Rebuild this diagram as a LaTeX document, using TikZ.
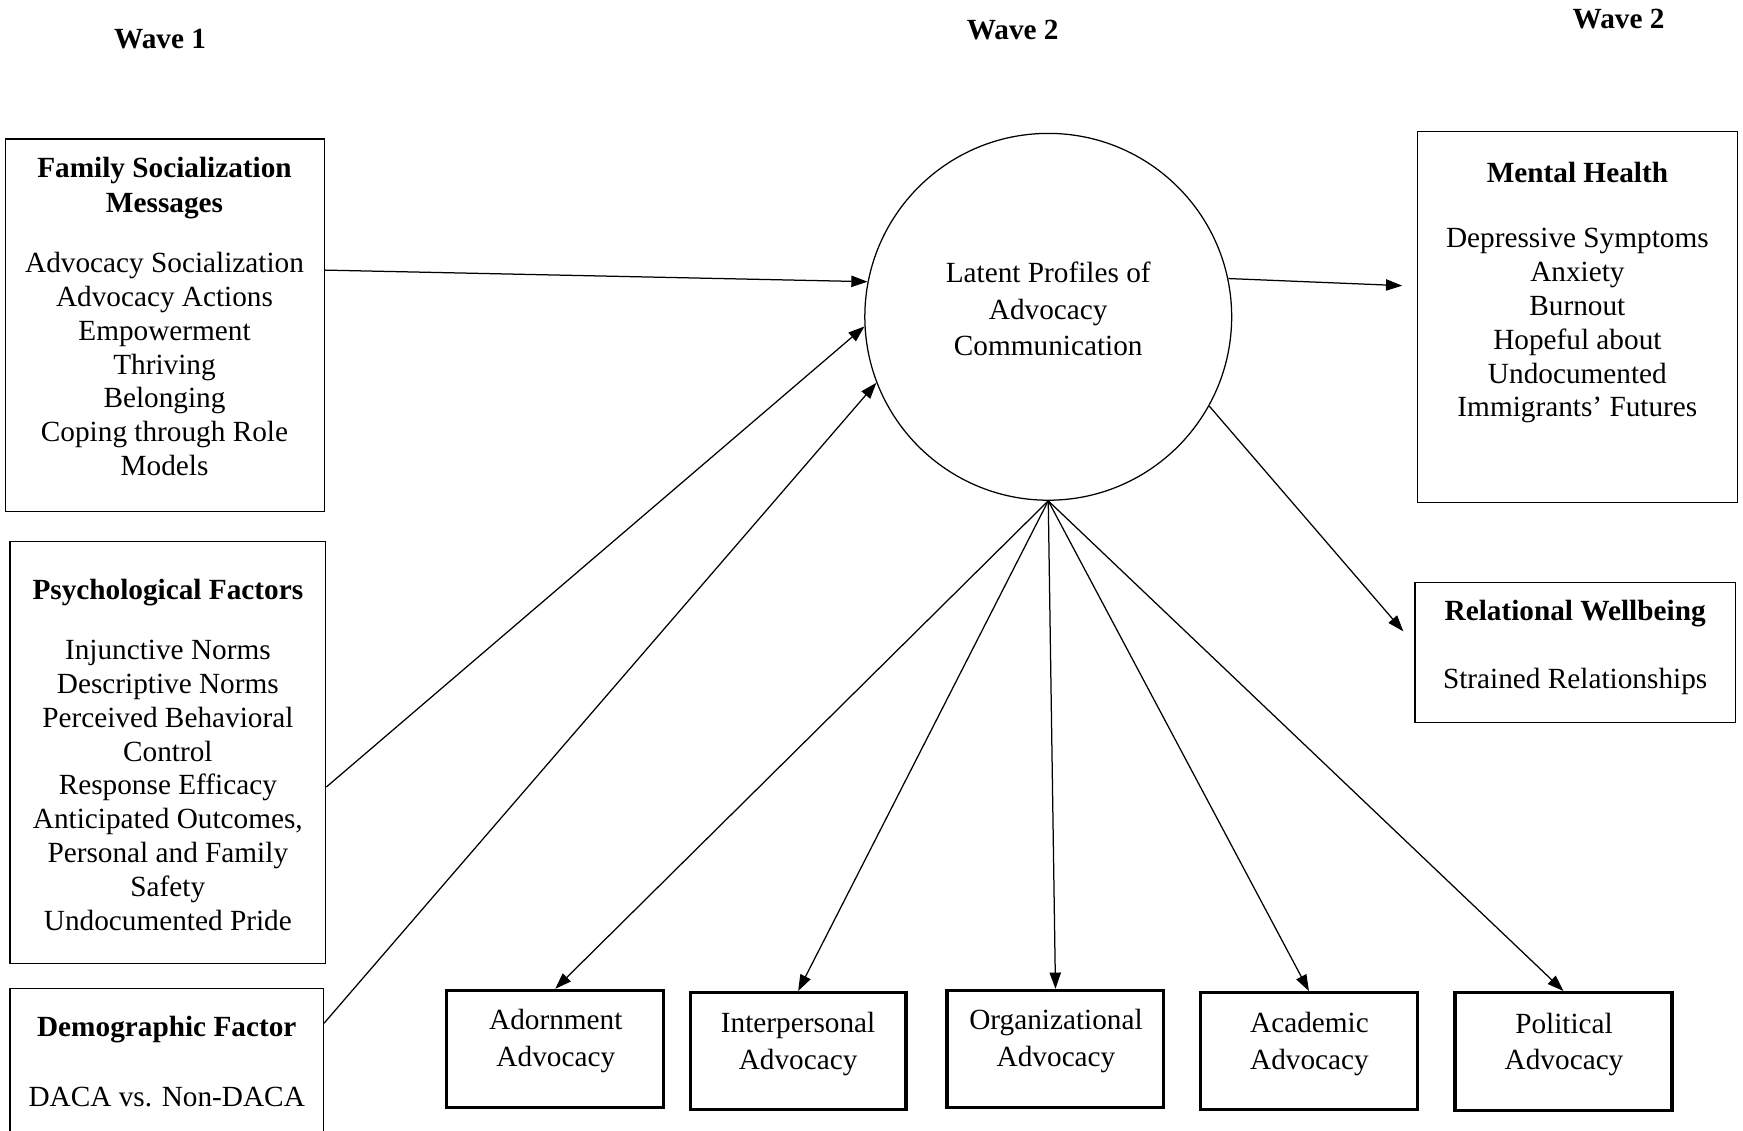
\documentclass[tikz,border=0pt]{standalone}
\usepackage{fontspec}
\setmainfont{Liberation Serif}
\usetikzlibrary{arrows.meta,calc}
\tikzset{
  box/.style={draw, line width=0.5pt, inner sep=0pt},
  obox/.style={draw, line width=1.3pt, inner sep=0pt},
  wh/.style 2 args={minimum width=#1*0.4444pt, minimum height=#2*0.4444pt},
  ttl/.style={font=\fontsize{11.7}{14.2}\selectfont\bfseries, align=center, inner sep=0pt},
  bod/.style={font=\fontsize{11.7}{13.55}\selectfont, align=center, inner sep=0pt},
  bodb/.style={font=\fontsize{11.7}{14.67}\selectfont, align=center, inner sep=0pt},
  arr/.style={-{Triangle[length=6.5pt,width=4.5pt]}, line width=0.5pt}}
\begin{document}
\begin{tikzpicture}[x=0.4444pt,y=-0.4444pt]
\clip (0,0) rectangle (1568,1017);
% wave labels
\node[ttl] (w1) at (144,35) {Wave 1};
\node[ttl] (w2) at (911,27) {Wave 2};
\node[ttl] (w3) at (1456,17) {Wave 2};
% boxes
\node[box, wh={287}{335}] (fam) at (148.5,292.5) {};
\node[box, wh={284}{380}] (psy) at (151,677) {};
\node[box, wh={282}{151}] (demo) at (150,964.5) {};
\node[box, wh={288}{334}] (mh) at (1419,285) {};
\node[box, wh={288}{126}] (rel) at (1417,587) {};
\node[draw, circle, minimum size=330*0.4444pt, inner sep=0pt, line width=0.5pt] (lp) at (943,285) {};
\node[obox, wh={195}{105}] (adorn) at (499.5,943.5) {};
\node[obox, wh={194}{105}] (inter) at (718,945.5) {};
\node[obox, wh={195}{105}] (org) at (949.5,943.5) {};
\node[obox, wh={195}{105}] (acad) at (1177.5,945.5) {};
\node[obox, wh={195}{106}] (pol) at (1406.5,946) {};
% texts
\node[ttl] (famT) at (148,169) {Family Socialization\\Messages};
\node[bod] (famB) at (148,327.5) {Advocacy Socialization\\Advocacy Actions\\Empowerment\\Thriving\\Belonging\\Coping through Role\\Models};
\node[ttl] (psyT) at (151,533) {Psychological Factors};
\node[bod] (psyB) at (151,706.5) {Injunctive Norms\\Descriptive Norms\\Perceived Behavioral\\Control\\Response Efficacy\\Anticipated Outcomes,\\Personal and Family\\Safety\\Undocumented Pride};
\node[ttl] (demT) at (150,926) {Demographic Factor};
\node[bod] (demB) at (150,987) {DACA vs. Non-DACA};
\node[bodb] (lpT) at (943,278) {Latent Profiles of\\Advocacy\\Communication};
\node[ttl] (mhT) at (1419,155) {Mental Health};
\node[bod] (mhB) at (1419,293) {Depressive Symptoms\\Anxiety\\Burnout\\Hopeful about\\Undocumented\\Immigrants’ Futures};
\node[ttl] (relT) at (1417,552) {Relational Wellbeing};
\node[bod] (relB) at (1417,613) {Strained Relationships};
\node[bodb] (adornT) at (500,936.5) {Adornment\\Advocacy};
\node[bodb] (interT) at (718,939) {Interpersonal\\Advocacy};
\node[bodb] (orgT) at (950,936.5) {Organizational\\Advocacy};
\node[bodb] (acadT) at (1178,939) {Academic\\Advocacy};
\node[bodb] (polT) at (1407,939.5) {Political\\Advocacy};
% arrows
\draw[arr] ($(fam.east)+(0,-49.5)$) -- (lp.169.4);
\draw[arr] ($(psy.east)+(0,31)$) -- (lp.183.1);
\draw[arr] ($(demo.north east)+(0,32)$) -- (lp.201.1);
\draw[arr] (lp.12.3) -- ($(mh.west)+(-13,-28)$);
\draw[arr] (lp.331.6) -- ($(rel.west)+(-10,-19)$);
\draw[arr] (lp.south) -- (adorn.north);
\draw[arr] (lp.south) -- (inter.north);
\draw[arr] (lp.south) -- (org.north);
\draw[arr] (lp.south) -- (acad.north);
\draw[arr] (lp.south) -- (pol.north);
\end{tikzpicture}
\end{document}
